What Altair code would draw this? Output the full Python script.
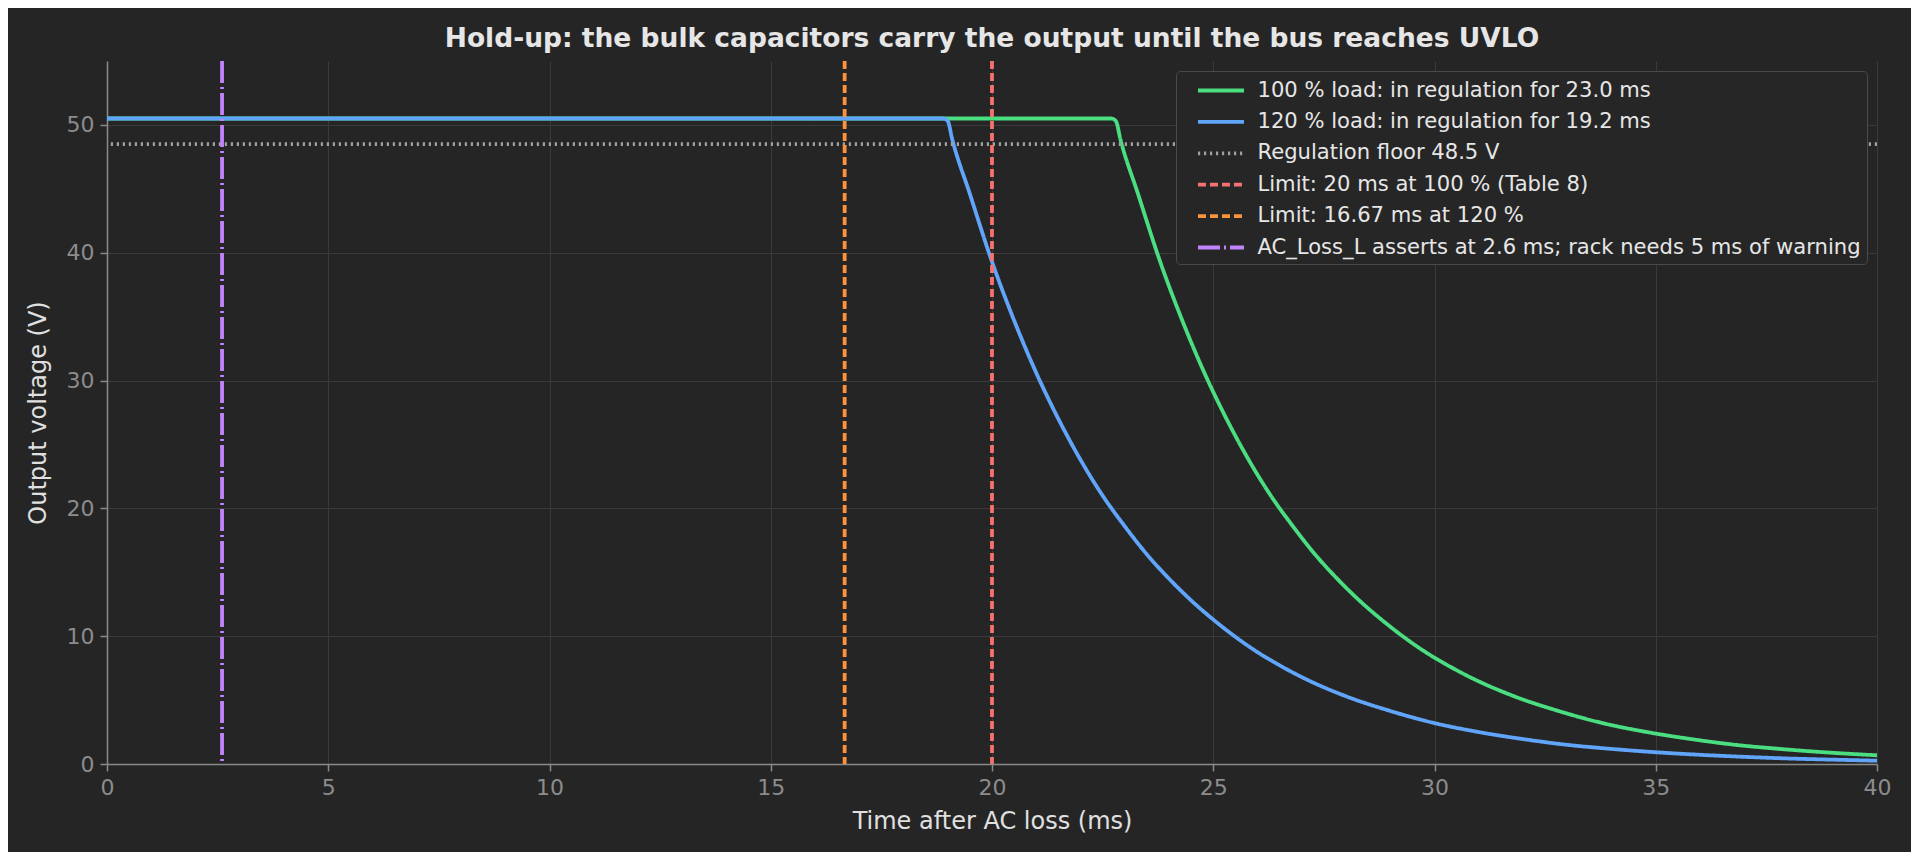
import altair as alt
import pandas as pd

# ---- labels ----
L_GREEN = "100 % load: in regulation for 23.0 ms"
L_BLUE = "120 % load: in regulation for 19.2 ms"
L_FLOOR = "Regulation floor 48.5 V"
L_RED = "Limit: 20 ms at 100 % (Table 8)"
L_ORANGE = "Limit: 16.67 ms at 120 %"
L_PURPLE = "AC_Loss_L asserts at 2.6 ms; rack needs 5 ms of warning"

# ---- 100 % load trace (ms, V) ----
green_t = [0, 2, 4, 6, 8, 10, 12, 14, 16, 18, 20, 22, 22.7, 22.8, 22.9, 23.3, 23.8, 24.3,
           24.8, 25.3, 25.8, 26.3, 26.8, 27.3, 27.8, 28.3, 28.8, 29.3, 29.8, 30.3, 30.8,
           31.8, 32.8, 33.8, 34.8, 35.8, 36.8, 37.8, 38.8, 40.0]
green_v = [50.5, 50.5, 50.5, 50.5, 50.5, 50.5, 50.5, 50.5, 50.5, 50.5, 50.5, 50.5, 50.5, 50.3,
           48.9, 44.6, 39.3, 34.7, 30.6, 27.0, 23.8, 21.0, 18.6, 16.4, 14.5, 12.8, 11.3, 9.95,
           8.75, 7.72, 6.8, 5.3, 4.15, 3.2, 2.5, 1.95, 1.5, 1.18, 0.92, 0.68]

# ---- 120 % load trace (ms, V) ----
blue_t = [0, 2, 4, 6, 8, 10, 12, 14, 16, 18, 18.9, 19.0, 19.1, 19.5, 20.0, 20.5, 21.0, 21.5,
          22.0, 22.5, 23.0, 23.5, 24.0, 24.5, 25.0, 25.5, 26.0, 26.5, 27.0, 28.0, 29.0,
          30.0, 31.0, 32.0, 33.0, 34.0, 35.0, 36.0, 37.0, 38.0, 39.0, 40.0]
blue_v = [50.5, 50.5, 50.5, 50.5, 50.5, 50.5, 50.5, 50.5, 50.5, 50.5, 50.5, 50.3, 48.9, 44.6,
          39.3, 34.7, 30.6, 27.0, 23.8, 21.0, 18.6, 16.4, 14.5, 12.8, 11.3, 9.95, 8.75, 7.72,
          6.8, 5.3, 4.15, 3.2, 2.5, 1.95, 1.5, 1.18, 0.92, 0.72, 0.56, 0.43, 0.34, 0.26]

# ---- reference lines ----
vline_labels = [L_RED, L_ORANGE, L_PURPLE]
vline_ms = [20.0, 16.67, 2.6]
floor_label = [L_FLOOR]
floor_v = [48.5]

domain = [L_GREEN, L_BLUE, L_FLOOR, L_RED, L_ORANGE, L_PURPLE]
colors = ["#4ade80", "#60a5fa", "#a0a0a0", "#f87171", "#fb923c", "#c084fc"]
dashes = [[1, 0], [1, 0], [2.2, 3.8], [8, 4], [8, 4], [22, 4, 2, 4]]
widths = [3.8, 3.8, 2.2, 2.2, 2.2, 2.2]

curves = pd.concat([
    pd.DataFrame({"t": green_t, "v": green_v, "series": L_GREEN}),
    pd.DataFrame({"t": blue_t, "v": blue_v, "series": L_BLUE}),
], ignore_index=True)
vlines = pd.DataFrame({"t": vline_ms, "series": vline_labels})
hline = pd.DataFrame({"v": floor_v, "series": floor_label})

FONT = "DejaVu Sans"
SYMBOL = "M-2,0H2"

color_enc = alt.Color("series:N", scale=alt.Scale(domain=domain, range=colors),
                      legend=alt.Legend(title=None, symbolType=SYMBOL))
dash_enc = alt.StrokeDash("series:N", scale=alt.Scale(domain=domain, range=dashes),
                          legend=alt.Legend(title=None, symbolType=SYMBOL))
width_enc = alt.StrokeWidth("series:O", scale=alt.Scale(domain=domain, range=widths),
                            legend=alt.Legend(title=None, symbolType=SYMBOL))

x_scale = alt.Scale(domain=[0, 40], nice=False)
y_scale = alt.Scale(domain=[0, 55], nice=False)

x_axis = alt.Axis(title="Time after AC loss (ms)", values=[0, 5, 10, 15, 20, 25, 30, 35, 40],
                  titlePadding=11)
y_axis = alt.Axis(title="Output voltage (V)", values=[0, 10, 20, 30, 40, 50], titlePadding=16)

lines = alt.Chart(curves).mark_line(clip=True, interpolate="monotone").encode(
    x=alt.X("t:Q", scale=x_scale, axis=x_axis),
    y=alt.Y("v:Q", scale=y_scale, axis=y_axis),
    color=color_enc, strokeDash=dash_enc, strokeWidth=width_enc,
    detail="series:N",
)

hrule = alt.Chart(hline).mark_rule().encode(
    y=alt.Y("v:Q", scale=y_scale),
    color=color_enc, strokeDash=dash_enc, strokeWidth=width_enc,
)

vrules = alt.Chart(vlines).mark_rule().encode(
    x=alt.X("t:Q", scale=x_scale),
    color=color_enc, strokeDash=dash_enc, strokeWidth=width_enc,
)

chart = alt.layer(lines, hrule, vrules).properties(
    width=1770,
    height=703,
    autosize=alt.AutoSizeParams(type="none"),
    padding={"left": 99, "top": 53, "right": 34, "bottom": 88},
    background="#252525",
    title=alt.TitleParams(
        "Hold-up: the bulk capacitors carry the output until the bus reaches UVLO",
        font=FONT, fontSize=26.5, fontWeight="bold", color="#e6e6e6",
        anchor="middle", frame="group", offset=7,
    ),
).configure_view(
    stroke="transparent"
).configure_axis(
    labelFont=FONT, titleFont=FONT,
    labelFontSize=22, titleFontSize=24, titleFontWeight="normal",
    labelColor="#8c8c8c", titleColor="#e0e0e0",
    domainColor="#8a8a8a", domainWidth=1.5, labelFlush=False,
    tickColor="#8a8a8a", tickWidth=1.5, tickSize=7, labelPadding=6,
    gridColor="#3a3a3a", gridWidth=1,
).configure_legend(
    orient="top-right", offset=10,
    labelFont=FONT, labelFontSize=21.1, labelColor="#e6e6e6",
    fillColor="#262626", strokeColor="#4a4a4a", cornerRadius=4,
    padding=6, symbolOffset=25.5, symbolSize=530, rowPadding=7.4, labelOffset=23,
    labelLimit=900,
)

chart.save("out.html", embed_options={"renderer": "svg", "actions": False})
